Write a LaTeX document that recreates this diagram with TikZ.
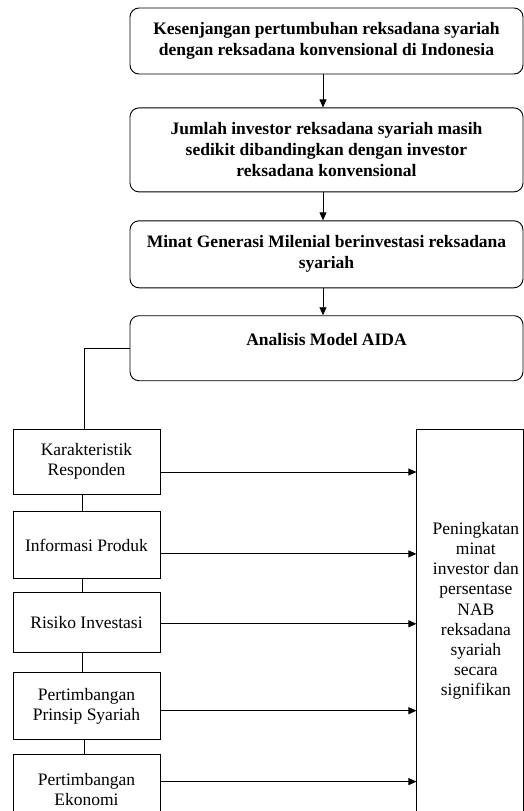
\documentclass[tikz,border=0pt]{standalone}
\usepackage{fontspec}
\setmainfont{Liberation Serif}
\usetikzlibrary{positioning,arrows.meta}

\tikzset{
  flowbox/.style={draw, rounded corners=9pt, line width=0.9pt, minimum width=393pt, align=center, inner sep=2pt, font=\bfseries\fontsize{17.5}{21}\selectfont},
  factorbox/.style={draw, line width=0.9pt, minimum width=147pt, align=center, inner sep=2pt, font=\fontsize{17.5}{20.2}\selectfont},
  plaintext/.style={align=center, inner sep=0pt, font=\fontsize{17.5}{20.2}\selectfont},
  link/.style={line width=0.9pt},
  arrow/.style={line width=0.9pt, -{Triangle[length=8pt,width=7pt]}}
}

\begin{document}
\begin{tikzpicture}[x=1pt,y=-1pt]
	\useasboundingbox (0,0) rectangle (524,811);

	\node[flowbox, minimum height=66pt] (gap) at (326.5,41) {Kesenjangan pertumbuhan reksadana syariah\\dengan reksadana konvensional di Indonesia};
	\node[flowbox, minimum height=84pt, below=33pt of gap] (jumlah) {Jumlah investor reksadana syariah masih\\sedikit dibandingkan dengan investor\\reksadana konvensional};
	\node[flowbox, minimum height=67pt, below=28pt of jumlah] (minat) {Minat Generasi Milenial berinvestasi reksadana\\syariah};
	\node[flowbox, minimum height=65pt, text height=12pt, text depth=17pt, below=27pt of minat] (aida) {Analisis Model AIDA};

	\draw[arrow] ([xshift=-3.5pt]gap.south) -- ([xshift=-3.5pt]jumlah.north);
	\draw[arrow] ([xshift=-3.5pt]jumlah.south) -- ([xshift=-3.5pt]minat.north);
	\draw[arrow] ([xshift=-3.5pt]minat.south) -- ([xshift=-3.5pt]aida.north);

	\node[factorbox, minimum height=65pt] (karak) at (86.5,461.5) {Karakteristik\\Responden};
	\node[factorbox, minimum height=67pt, below=17pt of karak] (info) {Informasi Produk};
	\node[factorbox, minimum height=60pt, below=13pt of info] (risiko) {Risiko Investasi};
	\node[factorbox, minimum height=67pt, below=19pt of risiko] (prinsip) {Pertimbangan\\Prinsip Syariah};
	\node[factorbox, minimum height=70pt, below=14pt of prinsip] (ekonomi) {Pertimbangan\\Ekonomi};

	\node[draw, line width=0.9pt, minimum width=107pt, minimum height=401pt, right=256pt of karak.north east, anchor=north west] (hasil) {};
	\node[plaintext] (hasiltext) at ([xshift=5.5pt,yshift=18.5pt]hasil.center) {Peningkatan\\minat\\investor dan\\persentase\\NAB\\reksadana\\syariah\\secara\\signifikan};

	\draw[link] (aida.west) -| ([xshift=-2.5pt]karak.north);
	\draw[link] ([xshift=-4.5pt]karak.south) -- ([xshift=-4.5pt]info.north);
	\draw[link] ([xshift=-4.5pt]info.south) -- ([xshift=-4.5pt]risiko.north);
	\draw[link] ([xshift=-4.5pt]risiko.south) -- ([xshift=-4.5pt]prinsip.north);
	\draw[link] ([xshift=-2.5pt]prinsip.south) -- ([xshift=-2.5pt]ekonomi.north);

	\draw[arrow] ([yshift=-10.5pt]karak.east) -- ([yshift=-10.5pt]karak.east -| hasil.west);
	\draw[arrow] ([yshift=-8.5pt]info.east) -- ([yshift=-8.5pt]info.east -| hasil.west);
	\draw[arrow] ([yshift=-1pt]risiko.east) -- ([yshift=-1pt]risiko.east -| hasil.west);
	\draw[arrow] ([yshift=-4.5pt]prinsip.east) -- ([yshift=-4.5pt]prinsip.east -| hasil.west);
	\draw[arrow] ([yshift=8pt]ekonomi.east) -- ([yshift=8pt]ekonomi.east -| hasil.west);
\end{tikzpicture}
\end{document}
